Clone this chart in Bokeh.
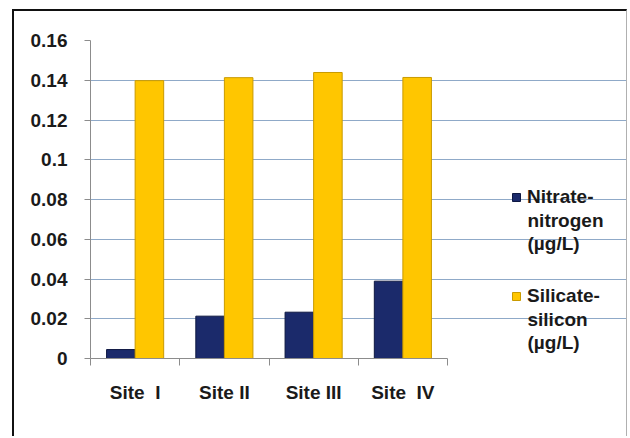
from bokeh.plotting import figure
from bokeh.models import FixedTicker, Legend, LegendItem, ColumnDataSource, Label
from bokeh.embed import file_html
from bokeh.resources import INLINE

# ---- data ----
sites = ["Site\u00a0\u00a0I", "Site II", "Site III", "Site\u00a0\u00a0IV"]
nitrate = [0.0045, 0.0213, 0.0233, 0.0389]
silicate = [0.1398, 0.1413, 0.1439, 0.1414]
nitrate_label = ["Nitrate-", "nitrogen", "(\u00b5g/L)"]
silicate_label = ["Silicate-", "silicon", "(\u00b5g/L)"]
y_ticks = [0, 0.02, 0.04, 0.06, 0.08, 0.1, 0.12, 0.14, 0.16]
y_tick_labels = ["0", "0.02", "0.04", "0.06", "0.08", "0.1", "0.12", "0.14", "0.16"]

FONT = "Liberation Sans"
BAR_W = 0.32
TXT = "#1A1A1A"

# layout (pixels): canvas is offset (14, 11) in the window by a framed box
CANVAS_W, CANVAS_H = 615, 427
BORDER_L, BORDER_T, BORDER_B = 76, 29, 80
FRAME_W = CANVAS_W - BORDER_L          # frame extends to the right edge
PLOT_W = 357                           # width used by the categories
n = len(sites)
x_end = n * FRAME_W / PLOT_W

idx = list(range(n))
centers = [i + 0.5 for i in idx]
src = ColumnDataSource(dict(
    xn=[c - BAR_W / 2 for c in centers],
    xs=[c + BAR_W / 2 for c in centers],
    nitrate=nitrate,
    silicate=silicate,
))

p = figure(width=CANVAS_W, height=CANVAS_H, x_range=(0, x_end), y_range=(0, 0.16),
           output_backend="svg", toolbar_location=None,
           min_border_left=BORDER_L, min_border_right=0,
           min_border_top=BORDER_T, min_border_bottom=BORDER_B)
p.styles = {"margin-left": "12px", "margin-top": "9px",
            "border-top": "2px solid #111111",
            "border-left": "2px solid #111111",
            "border-right": "1px solid #B0B0B0"}
p.outline_line_color = None
p.background_fill_color = "white"
p.border_fill_color = "white"

r1 = p.vbar(x="xn", top="nitrate", width=BAR_W, source=src,
            fill_color="#1B2A6B", line_color="#0E1842", line_width=1)
r2 = p.vbar(x="xs", top="silicate", width=BAR_W, source=src,
            fill_color="#FFC600", line_color="#C99A00", line_width=1)

# grid
p.xgrid.visible = False
p.ygrid.ticker = FixedTicker(ticks=y_ticks)
p.ygrid.grid_line_color = "#8FA9C8"
p.ygrid.grid_line_width = 1
p.ygrid.bounds = (0, n)

# y axis
yax = p.yaxis[0]
yax.ticker = FixedTicker(ticks=y_ticks)
yax.major_label_overrides = {t: l for t, l in zip(y_ticks, y_tick_labels)}
yax.axis_line_color = "#8C8C8C"
yax.major_tick_line_color = "#8C8C8C"
yax.major_tick_out = 6
yax.major_tick_in = 0
yax.minor_tick_line_color = None
yax.major_label_standoff = 17
yax.major_label_text_font = FONT
yax.major_label_text_font_style = "bold"
yax.major_label_text_font_size = "19px"
yax.major_label_text_color = TXT

# x axis
xax = p.xaxis[0]
xax.bounds = (0, n)
xax.ticker = FixedTicker(ticks=centers, minor_ticks=idx + [n])
xax.major_label_overrides = {c: s for c, s in zip(centers, sites)}
xax.axis_line_color = "#8C8C8C"
xax.major_tick_line_color = None
xax.major_tick_out = 0
xax.minor_tick_line_color = "#8C8C8C"
xax.minor_tick_out = 7
xax.minor_tick_in = 0
xax.major_label_standoff = 16
xax.major_label_text_font = FONT
xax.major_label_text_font_style = "bold"
xax.major_label_text_font_size = "19px"
xax.major_label_text_color = TXT

# legend (first line of each entry), inside the wide frame
LINE_H = 23
legend = Legend(items=[LegendItem(label=nitrate_label[0], renderers=[r1]),
                       LegendItem(label=silicate_label[0], renderers=[r2])],
                location=(421, 51), orientation="vertical",
                glyph_width=10, glyph_height=10, label_standoff=6,
                label_height=22, spacing=77, padding=0, margin=0,
                border_line_color=None, background_fill_alpha=0,
                label_text_font=FONT, label_text_font_style="bold",
                label_text_font_size="19px", label_text_color=TXT)
p.add_layout(legend)

# continuation lines of the legend entries
for first_y, lines in ((161.5, nitrate_label), (62.5, silicate_label)):
    for k, line in enumerate(lines[1:], start=1):
        p.add_layout(Label(x=437, y=first_y - k * LINE_H, x_units="screen", y_units="screen",
                           text=line, text_align="left", text_baseline="middle",
                           text_font=FONT, text_font_style="bold",
                           text_font_size="19px", text_color=TXT))

open("out.html", "w").write(file_html(p, INLINE))
